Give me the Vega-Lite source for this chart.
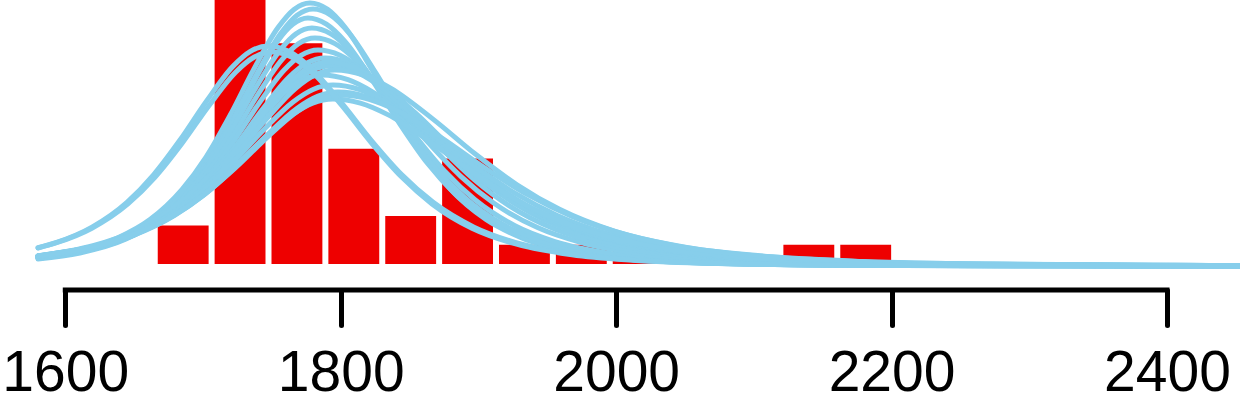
{
  "$schema": "https://vega.github.io/schema/vega-lite/v6.json",
  "width": 1240,
  "height": 290,
  "padding": {"left": 0, "top": 0, "right": 0, "bottom": 113},
  "autosize": {"type": "none"},
  "background": "white",
  "config": {"view": {"stroke": null}},
  "datasets": {
    "bars": [
      {"start": 1664.6, "end": 1705.9, "count": 4},
      {"start": 1705.9, "end": 1747.2, "count": 30},
      {"start": 1747.2, "end": 1788.5, "count": 23},
      {"start": 1788.5, "end": 1829.8, "count": 12},
      {"start": 1829.8, "end": 1871.1, "count": 5},
      {"start": 1871.1, "end": 1912.4, "count": 11},
      {"start": 1912.4, "end": 1953.7, "count": 2},
      {"start": 1953.7, "end": 1995.0, "count": 2},
      {"start": 1995.0, "end": 2036.3, "count": 2},
      {"start": 2036.3, "end": 2077.6, "count": 1},
      {"start": 2077.6, "end": 2118.9, "count": 0},
      {"start": 2118.9, "end": 2160.2, "count": 2},
      {"start": 2160.2, "end": 2201.5, "count": 2}
    ],
    "curves": [
      {"c":"T1","x":1580.2,"y":0.71},{"c":"T1","x":1603.4,"y":1.23},{"c":"T1","x":1638.3,"y":2.74},{"c":"T1","x":1661.5,"y":4.63},{"c":"T1","x":1684.7,"y":7.75},{"c":"T1","x":1702.2,"y":11.14},{"c":"T1","x":1719.6,"y":15.47},{"c":"T1","x":1737.0,"y":20.32},{"c":"T1","x":1754.5,"y":24.63},{"c":"T1","x":1766.1,"y":26.52},{"c":"T1","x":1777.7,"y":27.19},{"c":"T1","x":1790.5,"y":26.52},{"c":"T1","x":1803.3,"y":24.63},{"c":"T1","x":1822.4,"y":20.32},{"c":"T1","x":1841.6,"y":15.47},{"c":"T1","x":1860.8,"y":11.14},{"c":"T1","x":1879.9,"y":7.75},{"c":"T1","x":1905.5,"y":4.63},{"c":"T1","x":1931.1,"y":2.74},{"c":"T1","x":1969.4,"y":1.23},{"c":"T1","x":2007.7,"y":0.53},{"c":"T1","x":2065.3,"y":0.09},{"c":"T1","x":2161.1,"y":-0.12},{"c":"T1","x":2288.9,"y":-0.19},{"c":"T1","x":2453,"y":-0.2},
      {"c":"T2","x":1580.2,"y":0.65},{"c":"T2","x":1605.6,"y":1.20},{"c":"T2","x":1640.5,"y":2.67},{"c":"T2","x":1663.7,"y":4.52},{"c":"T2","x":1686.9,"y":7.56},{"c":"T2","x":1704.4,"y":10.88},{"c":"T2","x":1721.8,"y":15.11},{"c":"T2","x":1739.2,"y":19.85},{"c":"T2","x":1756.7,"y":24.06},{"c":"T2","x":1768.3,"y":25.90},{"c":"T2","x":1779.9,"y":26.56},{"c":"T2","x":1793.0,"y":25.90},{"c":"T2","x":1806.1,"y":24.06},{"c":"T2","x":1825.7,"y":19.85},{"c":"T2","x":1845.3,"y":15.11},{"c":"T2","x":1864.9,"y":10.88},{"c":"T2","x":1884.5,"y":7.56},{"c":"T2","x":1910.7,"y":4.52},{"c":"T2","x":1936.9,"y":2.67},{"c":"T2","x":1976.1,"y":1.20},{"c":"T2","x":2015.3,"y":0.51},{"c":"T2","x":2074.2,"y":0.08},{"c":"T2","x":2172.3,"y":-0.12},{"c":"T2","x":2303.1,"y":-0.19},{"c":"T2","x":2453,"y":-0.2},
      {"c":"T3","x":1580.2,"y":0.53},{"c":"T3","x":1610.6,"y":1.15},{"c":"T3","x":1643.7,"y":2.57},{"c":"T3","x":1665.8,"y":4.36},{"c":"T3","x":1687.9,"y":7.29},{"c":"T3","x":1704.4,"y":10.49},{"c":"T3","x":1721.0,"y":14.58},{"c":"T3","x":1737.6,"y":19.14},{"c":"T3","x":1754.1,"y":23.21},{"c":"T3","x":1765.2,"y":24.98},{"c":"T3","x":1776.2,"y":25.62},{"c":"T3","x":1789.6,"y":24.98},{"c":"T3","x":1802.9,"y":23.21},{"c":"T3","x":1823.0,"y":19.14},{"c":"T3","x":1843.0,"y":14.58},{"c":"T3","x":1863.0,"y":10.49},{"c":"T3","x":1883.1,"y":7.29},{"c":"T3","x":1909.8,"y":4.36},{"c":"T3","x":1936.5,"y":2.57},{"c":"T3","x":1976.6,"y":1.15},{"c":"T3","x":2016.7,"y":0.49},{"c":"T3","x":2076.8,"y":0.07},{"c":"T3","x":2177.0,"y":-0.13},{"c":"T3","x":2310.6,"y":-0.19},{"c":"T3","x":2453,"y":-0.2},
      {"c":"T4","x":1580.2,"y":0.60},{"c":"T4","x":1604.8,"y":1.09},{"c":"T4","x":1639.7,"y":2.46},{"c":"T4","x":1662.9,"y":4.17},{"c":"T4","x":1686.1,"y":6.99},{"c":"T4","x":1703.6,"y":10.06},{"c":"T4","x":1721.0,"y":13.98},{"c":"T4","x":1738.4,"y":18.37},{"c":"T4","x":1755.9,"y":22.26},{"c":"T4","x":1767.5,"y":23.97},{"c":"T4","x":1779.1,"y":24.58},{"c":"T4","x":1792.9,"y":23.97},{"c":"T4","x":1806.7,"y":22.26},{"c":"T4","x":1827.4,"y":18.37},{"c":"T4","x":1848.1,"y":13.98},{"c":"T4","x":1868.8,"y":10.06},{"c":"T4","x":1889.5,"y":6.99},{"c":"T4","x":1917.1,"y":4.17},{"c":"T4","x":1944.7,"y":2.46},{"c":"T4","x":1986.1,"y":1.09},{"c":"T4","x":2027.5,"y":0.46},{"c":"T4","x":2089.6,"y":0.06},{"c":"T4","x":2193.1,"y":-0.13},{"c":"T4","x":2331.1,"y":-0.19},{"c":"T4","x":2453,"y":-0.2},
      {"c":"T5","x":1580.2,"y":0.60},{"c":"T5","x":1602.8,"y":1.04},{"c":"T5","x":1638.5,"y":2.34},{"c":"T5","x":1662.3,"y":3.99},{"c":"T5","x":1686.1,"y":6.69},{"c":"T5","x":1703.9,"y":9.63},{"c":"T5","x":1721.8,"y":13.38},{"c":"T5","x":1739.6,"y":17.59},{"c":"T5","x":1757.5,"y":21.32},{"c":"T5","x":1769.4,"y":22.96},{"c":"T5","x":1781.3,"y":23.54},{"c":"T5","x":1795.8,"y":22.96},{"c":"T5","x":1810.3,"y":21.32},{"c":"T5","x":1832.1,"y":17.59},{"c":"T5","x":1853.9,"y":13.38},{"c":"T5","x":1875.7,"y":9.63},{"c":"T5","x":1897.5,"y":6.69},{"c":"T5","x":1926.5,"y":3.99},{"c":"T5","x":1955.5,"y":2.34},{"c":"T5","x":1999.1,"y":1.04},{"c":"T5","x":2042.7,"y":0.43},{"c":"T5","x":2108.0,"y":0.05},{"c":"T5","x":2216.9,"y":-0.13},{"c":"T5","x":2362.1,"y":-0.19},{"c":"T5","x":2453,"y":-0.2},
      {"c":"M1","x":1580.2,"y":0.64},{"c":"M1","x":1598.4,"y":0.97},{"c":"M1","x":1635.4,"y":2.21},{"c":"M1","x":1660.1,"y":3.77},{"c":"M1","x":1684.8,"y":6.32},{"c":"M1","x":1703.3,"y":9.11},{"c":"M1","x":1721.8,"y":12.67},{"c":"M1","x":1740.3,"y":16.65},{"c":"M1","x":1758.8,"y":20.19},{"c":"M1","x":1771.2,"y":21.74},{"c":"M1","x":1783.5,"y":22.29},{"c":"M1","x":1799.5,"y":21.74},{"c":"M1","x":1815.5,"y":20.19},{"c":"M1","x":1839.4,"y":16.65},{"c":"M1","x":1863.4,"y":12.67},{"c":"M1","x":1887.4,"y":9.11},{"c":"M1","x":1911.3,"y":6.32},{"c":"M1","x":1943.3,"y":3.77},{"c":"M1","x":1975.3,"y":2.21},{"c":"M1","x":2023.2,"y":0.97},{"c":"M1","x":2071.1,"y":0.40},{"c":"M1","x":2143.1,"y":0.04},{"c":"M1","x":2262.9,"y":-0.14},{"c":"M1","x":2422.7,"y":-0.19},{"c":"M1","x":2453,"y":-0.2},
      {"c":"M2","x":1580.2,"y":0.71},{"c":"M2","x":1592.4,"y":0.93},{"c":"M2","x":1631.6,"y":2.12},{"c":"M2","x":1657.8,"y":3.62},{"c":"M2","x":1684.0,"y":6.08},{"c":"M2","x":1703.6,"y":8.77},{"c":"M2","x":1723.2,"y":12.19},{"c":"M2","x":1742.8,"y":16.03},{"c":"M2","x":1762.4,"y":19.44},{"c":"M2","x":1775.5,"y":20.93},{"c":"M2","x":1788.6,"y":21.46},{"c":"M2","x":1805.3,"y":20.93},{"c":"M2","x":1822.0,"y":19.44},{"c":"M2","x":1847.1,"y":16.03},{"c":"M2","x":1872.1,"y":12.19},{"c":"M2","x":1897.2,"y":8.77},{"c":"M2","x":1922.2,"y":6.08},{"c":"M2","x":1955.6,"y":3.62},{"c":"M2","x":1989.0,"y":2.12},{"c":"M2","x":2039.1,"y":0.93},{"c":"M2","x":2089.2,"y":0.38},{"c":"M2","x":2164.4,"y":0.03},{"c":"M2","x":2289.6,"y":-0.14},{"c":"M2","x":2453,"y":-0.19},
      {"c":"M3","x":1580.2,"y":0.80},{"c":"M3","x":1626.6,"y":2.03},{"c":"M3","x":1654.2,"y":3.47},{"c":"M3","x":1681.8,"y":5.84},{"c":"M3","x":1702.5,"y":8.42},{"c":"M3","x":1723.2,"y":11.71},{"c":"M3","x":1743.9,"y":15.40},{"c":"M3","x":1764.6,"y":18.67},{"c":"M3","x":1778.4,"y":20.11},{"c":"M3","x":1792.2,"y":20.62},{"c":"M3","x":1809.6,"y":20.11},{"c":"M3","x":1827.0,"y":18.67},{"c":"M3","x":1853.2,"y":15.40},{"c":"M3","x":1879.3,"y":11.71},{"c":"M3","x":1905.4,"y":8.42},{"c":"M3","x":1931.6,"y":5.84},{"c":"M3","x":1966.4,"y":3.47},{"c":"M3","x":2001.2,"y":2.03},{"c":"M3","x":2053.5,"y":0.88},{"c":"M3","x":2105.8,"y":0.35},{"c":"M3","x":2184.2,"y":0.02},{"c":"M3","x":2314.8,"y":-0.14},{"c":"M3","x":2453,"y":-0.19},
      {"c":"M4","x":1580.2,"y":0.84},{"c":"M4","x":1620.8,"y":1.93},{"c":"M4","x":1648.4,"y":3.31},{"c":"M4","x":1676.0,"y":5.57},{"c":"M4","x":1696.7,"y":8.04},{"c":"M4","x":1717.4,"y":11.18},{"c":"M4","x":1738.1,"y":14.70},{"c":"M4","x":1758.8,"y":17.83},{"c":"M4","x":1772.6,"y":19.20},{"c":"M4","x":1786.4,"y":19.69},{"c":"M4","x":1805.3,"y":19.20},{"c":"M4","x":1824.2,"y":17.83},{"c":"M4","x":1852.5,"y":14.70},{"c":"M4","x":1880.8,"y":11.18},{"c":"M4","x":1909.1,"y":8.04},{"c":"M4","x":1937.4,"y":5.57},{"c":"M4","x":1975.2,"y":3.31},{"c":"M4","x":2013.0,"y":1.93},{"c":"M4","x":2069.6,"y":0.83},{"c":"M4","x":2126.2,"y":0.33},{"c":"M4","x":2211.2,"y":0.01},{"c":"M4","x":2352.8,"y":-0.15},{"c":"M4","x":2453,"y":-0.18},
      {"c":"M5","x":1580.2,"y":0.73},{"c":"M5","x":1590.4,"y":0.91},{"c":"M5","x":1630.5,"y":2.07},{"c":"M5","x":1657.2,"y":3.55},{"c":"M5","x":1683.9,"y":5.96},{"c":"M5","x":1704.0,"y":8.60},{"c":"M5","x":1724.0,"y":11.95},{"c":"M5","x":1744.0,"y":15.71},{"c":"M5","x":1764.1,"y":19.06},{"c":"M5","x":1777.4,"y":20.52},{"c":"M5","x":1790.8,"y":21.04},{"c":"M5","x":1809.0,"y":20.52},{"c":"M5","x":1827.1,"y":19.06},{"c":"M5","x":1854.4,"y":15.71},{"c":"M5","x":1881.6,"y":11.95},{"c":"M5","x":1908.8,"y":8.60},{"c":"M5","x":1936.1,"y":5.96},{"c":"M5","x":1972.4,"y":3.55},{"c":"M5","x":2008.7,"y":2.07},{"c":"M5","x":2063.2,"y":0.91},{"c":"M5","x":2117.7,"y":0.36},{"c":"M5","x":2199.4,"y":0.02},{"c":"M5","x":2335.6,"y":-0.14},{"c":"M5","x":2453,"y":-0.19},
      {"c":"M6","x":1580.2,"y":0.84},{"c":"M6","x":1624.9,"y":1.99},{"c":"M6","x":1653.4,"y":3.40},{"c":"M6","x":1681.9,"y":5.72},{"c":"M6","x":1703.2,"y":8.25},{"c":"M6","x":1724.6,"y":11.48},{"c":"M6","x":1746.0,"y":15.09},{"c":"M6","x":1767.3,"y":18.30},{"c":"M6","x":1781.6,"y":19.71},{"c":"M6","x":1795.8,"y":20.21},{"c":"M6","x":1816.1,"y":19.71},{"c":"M6","x":1836.5,"y":18.30},{"c":"M6","x":1867.0,"y":15.09},{"c":"M6","x":1897.5,"y":11.48},{"c":"M6","x":1928.0,"y":8.25},{"c":"M6","x":1958.5,"y":5.72},{"c":"M6","x":1999.2,"y":3.40},{"c":"M6","x":2039.9,"y":1.99},{"c":"M6","x":2100.9,"y":0.86},{"c":"M6","x":2161.9,"y":0.34},{"c":"M6","x":2253.5,"y":0.01},{"c":"M6","x":2406.0,"y":-0.14},{"c":"M6","x":2453,"y":-0.17},
      {"c":"W1","x":1580.2,"y":0.84},{"c":"W1","x":1620.2,"y":1.82},{"c":"W1","x":1649.2,"y":3.12},{"c":"W1","x":1678.2,"y":5.26},{"c":"W1","x":1700.0,"y":7.60},{"c":"W1","x":1721.8,"y":10.58},{"c":"W1","x":1743.6,"y":13.91},{"c":"W1","x":1765.4,"y":16.88},{"c":"W1","x":1779.9,"y":18.18},{"c":"W1","x":1794.4,"y":18.64},{"c":"W1","x":1813.3,"y":18.18},{"c":"W1","x":1832.2,"y":16.88},{"c":"W1","x":1860.5,"y":13.91},{"c":"W1","x":1888.8,"y":10.58},{"c":"W1","x":1917.1,"y":7.60},{"c":"W1","x":1945.4,"y":5.26},{"c":"W1","x":1983.2,"y":3.12},{"c":"W1","x":2021.0,"y":1.82},{"c":"W1","x":2077.6,"y":0.78},{"c":"W1","x":2134.2,"y":0.30},{"c":"W1","x":2219.2,"y":0.00},{"c":"W1","x":2360.8,"y":-0.15},{"c":"W1","x":2453,"y":-0.18},
      {"c":"W2","x":1580.2,"y":0.81},{"c":"W2","x":1620.2,"y":1.74},{"c":"W2","x":1649.8,"y":3.00},{"c":"W2","x":1679.4,"y":5.06},{"c":"W2","x":1701.7,"y":7.30},{"c":"W2","x":1723.9,"y":10.17},{"c":"W2","x":1746.1,"y":13.37},{"c":"W2","x":1768.4,"y":16.23},{"c":"W2","x":1783.2,"y":17.47},{"c":"W2","x":1798.0,"y":17.92},{"c":"W2","x":1817.9,"y":17.47},{"c":"W2","x":1837.8,"y":16.23},{"c":"W2","x":1867.7,"y":13.37},{"c":"W2","x":1897.5,"y":10.17},{"c":"W2","x":1927.4,"y":7.30},{"c":"W2","x":1957.2,"y":5.06},{"c":"W2","x":1997.0,"y":3.00},{"c":"W2","x":2036.8,"y":1.74},{"c":"W2","x":2096.5,"y":0.74},{"c":"W2","x":2156.2,"y":0.28},{"c":"W2","x":2245.8,"y":-0.01},{"c":"W2","x":2395.0,"y":-0.15},{"c":"W2","x":2453,"y":-0.17},
      {"c":"W3","x":1580.2,"y":0.83},{"c":"W3","x":1616.6,"y":1.66},{"c":"W3","x":1646.2,"y":2.87},{"c":"W3","x":1675.8,"y":4.84},{"c":"W3","x":1698.1,"y":7.00},{"c":"W3","x":1720.3,"y":9.75},{"c":"W3","x":1742.5,"y":12.83},{"c":"W3","x":1764.8,"y":15.56},{"c":"W3","x":1779.6,"y":16.76},{"c":"W3","x":1794.4,"y":17.19},{"c":"W3","x":1814.3,"y":16.76},{"c":"W3","x":1834.2,"y":15.56},{"c":"W3","x":1864.1,"y":12.83},{"c":"W3","x":1893.9,"y":9.75},{"c":"W3","x":1923.8,"y":7.00},{"c":"W3","x":1953.6,"y":4.84},{"c":"W3","x":1993.4,"y":2.87},{"c":"W3","x":2033.2,"y":1.66},{"c":"W3","x":2092.9,"y":0.70},{"c":"W3","x":2152.6,"y":0.26},{"c":"W3","x":2242.2,"y":-0.02},{"c":"W3","x":2391.4,"y":-0.15},{"c":"W3","x":2453,"y":-0.17},
      {"c":"W4","x":1580.2,"y":0.87},{"c":"W4","x":1616.6,"y":1.70},{"c":"W4","x":1647.1,"y":2.94},{"c":"W4","x":1677.6,"y":4.96},{"c":"W4","x":1700.4,"y":7.17},{"c":"W4","x":1723.3,"y":9.98},{"c":"W4","x":1746.2,"y":13.14},{"c":"W4","x":1769.0,"y":15.94},{"c":"W4","x":1784.3,"y":17.16},{"c":"W4","x":1799.5,"y":17.60},{"c":"W4","x":1820.6,"y":17.16},{"c":"W4","x":1841.6,"y":15.94},{"c":"W4","x":1873.2,"y":13.14},{"c":"W4","x":1904.8,"y":9.98},{"c":"W4","x":1936.4,"y":7.17},{"c":"W4","x":1968.0,"y":4.96},{"c":"W4","x":2010.1,"y":2.94},{"c":"W4","x":2052.2,"y":1.70},{"c":"W4","x":2115.4,"y":0.73},{"c":"W4","x":2178.6,"y":0.27},{"c":"W4","x":2273.4,"y":-0.01},{"c":"W4","x":2431.3,"y":-0.15},{"c":"W4","x":2453,"y":-0.16},
      {"c":"L1","x":1580.2,"y":1.69},{"c":"L1","x":1593.8,"y":2.25},{"c":"L1","x":1619.4,"y":3.84},{"c":"L1","x":1645.0,"y":6.45},{"c":"L1","x":1664.1,"y":9.29},{"c":"L1","x":1683.3,"y":12.91},{"c":"L1","x":1702.5,"y":16.96},{"c":"L1","x":1721.6,"y":20.57},{"c":"L1","x":1734.4,"y":22.15},{"c":"L1","x":1747.2,"y":22.71},{"c":"L1","x":1762.2,"y":22.15},{"c":"L1","x":1777.1,"y":20.57},{"c":"L1","x":1799.6,"y":16.96},{"c":"L1","x":1822.0,"y":12.91},{"c":"L1","x":1844.4,"y":9.29},{"c":"L1","x":1866.9,"y":6.45},{"c":"L1","x":1896.8,"y":3.84},{"c":"L1","x":1926.7,"y":2.25},{"c":"L1","x":1971.6,"y":0.99},{"c":"L1","x":2016.5,"y":0.41},{"c":"L1","x":2083.8,"y":0.04},{"c":"L1","x":2196.0,"y":-0.14},{"c":"L1","x":2345.6,"y":-0.19},{"c":"L1","x":2453,"y":-0.2},
      {"c":"L2","x":1580.2,"y":1.67},{"c":"L2","x":1593.1,"y":2.19},{"c":"L2","x":1619.3,"y":3.73},{"c":"L2","x":1645.5,"y":6.26},{"c":"L2","x":1665.1,"y":9.03},{"c":"L2","x":1684.7,"y":12.55},{"c":"L2","x":1704.3,"y":16.49},{"c":"L2","x":1723.9,"y":20.00},{"c":"L2","x":1737.0,"y":21.53},{"c":"L2","x":1750.1,"y":22.08},{"c":"L2","x":1764.6,"y":21.53},{"c":"L2","x":1779.1,"y":20.00},{"c":"L2","x":1800.9,"y":16.49},{"c":"L2","x":1822.7,"y":12.55},{"c":"L2","x":1844.5,"y":9.03},{"c":"L2","x":1866.3,"y":6.26},{"c":"L2","x":1895.3,"y":3.73},{"c":"L2","x":1924.3,"y":2.19},{"c":"L2","x":1967.9,"y":0.96},{"c":"L2","x":2011.5,"y":0.39},{"c":"L2","x":2076.8,"y":0.04},{"c":"L2","x":2185.7,"y":-0.14},{"c":"L2","x":2330.9,"y":-0.19},{"c":"L2","x":2453,"y":-0.2}
    ]
  },
  "layer": [
    {
      "data": {"name": "bars"},
      "mark": {"type": "bar", "color": "#EE0000", "binSpacing": 6, "clip": true},
      "encoding": {
        "x": {"field": "start", "type": "quantitative", "bin": "binned",
              "scale": {"domain": [1552.6, 2453.0], "nice": false, "zero": false},
              "axis": {"values": [1600, 1800, 2000, 2200, 2400], "format": "d", "domain": false, "grid": false,
                       "ticks": true, "tickSize": 35, "tickWidth": 5, "tickColor": "black", "tickCap": "round",
                       "labelFont": "Liberation Sans", "labelFontSize": 57, "labelColor": "black",
                       "labelPadding": 20, "labelFlush": false, "labelOverlap": false, "title": null}},
        "x2": {"field": "end"},
        "y": {"field": "count", "type": "quantitative",
              "scale": {"domain": [-2.7083, 27.5], "nice": false, "zero": false}, "axis": null}
      }
    },
    {
      "data": {"name": "curves"},
      "mark": {"type": "line", "color": "#87CEEB", "strokeWidth": 5, "strokeCap": "round",
               "strokeJoin": "round", "interpolate": "monotone", "clip": true},
      "encoding": {
        "x": {"field": "x", "type": "quantitative",
              "scale": {"domain": [1552.6, 2453.0], "nice": false, "zero": false},
              "axis": {"values": [1600, 1800, 2000, 2200, 2400], "format": "d", "domain": false, "grid": false,
                       "ticks": true, "tickSize": 35, "tickWidth": 5, "tickColor": "black", "tickCap": "round",
                       "labelFont": "Liberation Sans", "labelFontSize": 57, "labelColor": "black",
                       "labelPadding": 20, "labelFlush": false, "labelOverlap": false, "title": null}},
        "y": {"field": "y", "type": "quantitative", "axis": null},
        "detail": {"field": "c"}
      }
    },
    {
      "data": {"values": [{}]},
      "mark": {"type": "rule", "color": "black", "strokeWidth": 5, "size": 5, "strokeCap": "square"},
      "encoding": {
        "x": {"datum": 1600, "type": "quantitative",
              "axis": {"values": [1600, 1800, 2000, 2200, 2400], "format": "d", "domain": false, "grid": false,
                       "ticks": true, "tickSize": 35, "tickWidth": 5, "tickColor": "black", "tickCap": "round",
                       "labelFont": "Liberation Sans", "labelFontSize": 57, "labelColor": "black",
                       "labelPadding": 20, "labelFlush": false, "labelOverlap": false, "title": null}},
        "x2": {"datum": 2400},
        "y": {"datum": -2.7083, "type": "quantitative", "axis": null}
      }
    }
  ]
}
